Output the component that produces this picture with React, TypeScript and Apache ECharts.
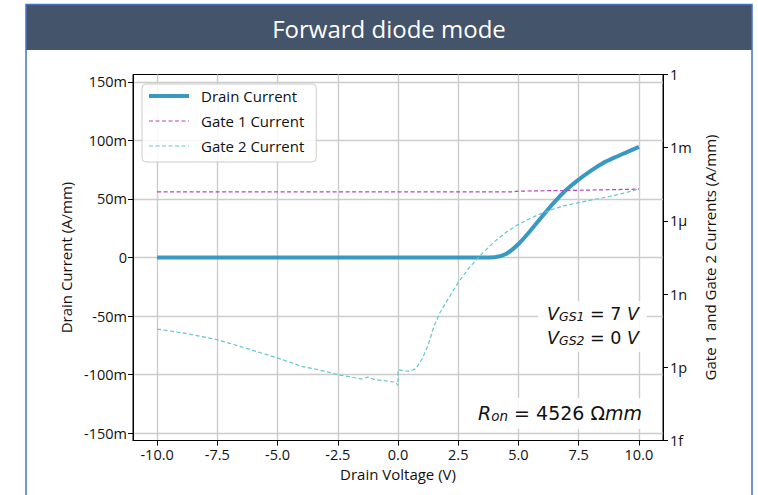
import React, { useEffect, useRef } from "react";
import * as echarts from "echarts";

// ---- data ----
const xTicks = [-10, -7.5, -5, -2.5, 0, 2.5, 5, 7.5, 10];
const leftTicks = [-0.15, -0.1, -0.05, 0, 0.05, 0.1, 0.15];
const rightTickExp = [-15, -12, -9, -6, -3, 0];
const rightTickLabels = ["1f", "1p", "1n", "1μ", "1m", "1"];

const drainV = [-10, -7.5, -5, -2.5, 0, 2.5, 3.5, 4.0, 4.5, 5.0, 5.5, 6.0, 6.5, 7.0, 7.5, 8.0, 8.5, 9.0, 9.5, 10.0];
const drainI = [0, 0, 0, 0, 0, 0, 0, 0.0002, 0.0032, 0.0115, 0.023, 0.0355, 0.0475, 0.058, 0.0665, 0.074, 0.0805, 0.0855, 0.09, 0.0945];

const gate1V = [-10, 4.75, 5.0, 7.5, 10];
const gate1I = [1.55e-5, 1.55e-5, 1.66e-5, 1.8e-5, 2.0e-5];

const gate2V = [-10, -8.75, -7.5, -6.25, -5, -4, -3, -2.5, -2, -1.5, -1.25, -1, -0.5, -0.1, 0, 0, 0.25, 0.5, 0.75, 1, 1.25, 1.5, 1.75, 2, 2.25, 2.5, 2.75, 3, 3.5, 4, 4.5, 5, 5.5, 6, 6.5, 7, 7.5, 8, 8.5, 9, 9.5, 10];
const gate2I = [3.7e-11, 2.4e-11, 1.35e-11, 5.8e-12, 2.4e-12, 1.1e-12, 6.8e-13, 4.9e-13, 4.1e-13, 3.3e-13, 4.0e-13, 3.2e-13, 2.75e-13, 2.45e-13, 1.8e-13, 7.9e-13, 7.1e-13, 6.9e-13, 8.9e-13, 2.2e-12, 8e-12, 5.0e-11, 1.8e-10, 4.7e-10, 1.2e-9, 3.0e-9, 6.5e-9, 1.35e-8, 4.7e-8, 1.4e-7, 3.5e-7, 7.2e-7, 1.3e-6, 2.1e-6, 3.2e-6, 4.4e-6, 5.6e-6, 7.1e-6, 8.9e-6, 1.12e-5, 1.48e-5, 2.04e-5];

const FONT = "'Open Sans', Lato, sans-serif";
const MATH_FONT = "'DejaVu Sans', sans-serif";
const DRAIN_COLOR = "#3A99C2";
const GATE1_COLOR = "#B346B8";
const GATE2_COLOR = "#62C6D0";

export default function App() {
  const ref = useRef<HTMLDivElement>(null);
  useEffect(() => {
    if (!ref.current) return;
    const chart = echarts.init(ref.current, undefined, { renderer: "svg" });

    const axisText = { fontFamily: FONT, fontSize: 14.5, color: "#111" };
    const nameText = { fontFamily: FONT, fontSize: 15, color: "#111" };
    const richV = (size: number, sub: number) => ({
      v: { fontFamily: MATH_FONT, fontStyle: "italic", fontSize: size, lineHeight: size, verticalAlign: "middle" },
      s: { fontFamily: MATH_FONT, fontStyle: "italic", fontSize: sub, lineHeight: 10, verticalAlign: "bottom" },
      n: { fontFamily: MATH_FONT, fontSize: size, lineHeight: size, verticalAlign: "middle" },
    });
    const option: any = {
      animation: false,
      backgroundColor: "#ffffff",
      textStyle: { fontFamily: FONT },
      grid: {
        left: 133, top: 74.5, width: 530, height: 366,
        show: true, borderColor: "#000", borderWidth: 1, backgroundColor: "transparent",
        containLabel: false,
      },
      legend: {
        orient: "vertical",
        left: 142, top: 84,
        padding: [3.5, 12, 7.5, 5],
        itemWidth: 40, itemHeight: 14, itemGap: 8,
        itemStyle: { opacity: 0 },
        lineStyle: { width: "inherit" },
        backgroundColor: "rgba(255,255,255,0.85)",
        borderColor: "#cccccc", borderWidth: 1, borderRadius: 4,
        textStyle: { fontFamily: FONT, fontSize: 15, color: "#111", lineHeight: 17, padding: [0, 0, 0, 7] },
        data: ["Drain Current", "Gate 1 Current", "Gate 2 Current"],
      },
      xAxis: {
        type: "value", min: -11, max: 11,
        name: "Drain Voltage (V)", nameLocation: "middle", nameGap: 22,
        nameTextStyle: nameText,
        axisLine: { show: true, onZero: false, lineStyle: { color: "#000", width: 1 } },
        axisTick: { show: true, inside: false, length: 5, customValues: xTicks, lineStyle: { color: "#000" } },
        axisLabel: { ...axisText, margin: 6, customValues: xTicks, formatter: (v: number) => v.toFixed(1) },
        splitLine: { show: true, lineStyle: { color: "#cccccc", width: 1.4 } },
      },
      yAxis: [
        {
          type: "value", min: -0.15625, max: 0.15625, position: "left",
          name: "Drain Current (A/mm)", nameLocation: "middle", nameGap: 60,
          nameTextStyle: nameText,
          axisLine: { show: true, onZero: false, lineStyle: { color: "#000", width: 1 } },
          axisTick: { show: true, inside: false, length: 5, customValues: leftTicks, lineStyle: { color: "#000" } },
          axisLabel: {
            ...axisText, margin: 6, customValues: leftTicks,
            formatter: (v: number) => { const m = Math.round(v * 1000); return m === 0 ? "0" : m + "m"; },
          },
          splitLine: { show: true, lineStyle: { color: "#cccccc", width: 1.4 } },
        },
        {
          type: "value", min: -15, max: 0, interval: 3, position: "right",
          name: "Gate 1 and Gate 2 Currents (A/mm)", nameLocation: "middle", nameGap: 27,
          nameTextStyle: nameText,
          axisLine: { show: true, onZero: false, lineStyle: { color: "#000", width: 1 } },
          axisTick: { show: true, inside: false, length: 5, lineStyle: { color: "#000" } },
          axisLabel: {
            ...axisText, margin: 7,
            formatter: (v: number) => { const i = rightTickExp.indexOf(Math.round(v)); return i >= 0 ? rightTickLabels[i] : ""; },
          },
          splitLine: { show: false },
        },
      ],
      series: [
        {
          name: "Drain Current", type: "line", yAxisIndex: 0, symbol: "none",
          smooth: 0.3,
          lineStyle: { color: DRAIN_COLOR, width: 4 }, itemStyle: { color: DRAIN_COLOR },
          data: drainV.map((v, i) => [v, drainI[i]]), z: 3,
        },
        {
          name: "Gate 1 Current", type: "line", yAxisIndex: 1, symbol: "none",
          lineStyle: { color: GATE1_COLOR, width: 1.2, type: [4, 2.5] }, itemStyle: { color: GATE1_COLOR },
          data: gate1V.map((v, i) => [v, Math.log10(gate1I[i])]), z: 4,
        },
        {
          name: "Gate 2 Current", type: "line", yAxisIndex: 1, symbol: "none",
          lineStyle: { color: GATE2_COLOR, width: 1.2, type: [4, 2.5] }, itemStyle: { color: GATE2_COLOR },
          data: gate2V.map((v, i) => [v, Math.log10(gate2I[i])]), z: 4,
        },
      ],
      graphic: [
        { type: "rect", z: 0, silent: true, shape: { x: 26, y: 5, width: 726, height: 45 }, style: { fill: "#44546A" } },
        { type: "rect", z: 1, silent: true, shape: { x: 26, y: 4.5, width: 726, height: 510 }, style: { fill: "none", stroke: "#4472C4", lineWidth: 1.5 } },
        {
          type: "text", z: 2, silent: true, x: 389, y: 28,
          style: { text: "Forward diode mode", fill: "#ffffff", font: `24px ${FONT}`, align: "center", verticalAlign: "middle" },
        },
        { type: "rect", z: 5, silent: true, shape: { x: 538, y: 301, width: 109, height: 51 }, style: { fill: "rgba(255,255,255,0.85)" } },
        { type: "rect", z: 5, silent: true, shape: { x: 476, y: 398, width: 171, height: 31 }, style: { fill: "rgba(255,255,255,0.85)" } },
        {
          type: "text", z: 6, silent: true, x: 639, y: 314,
          style: { text: "{v|V}{s|GS1}{n| = 7 }{v|V}", align: "right", verticalAlign: "middle", fill: "#111", rich: richV(17.5, 12.5) },
        },
        {
          type: "text", z: 6, silent: true, x: 639, y: 338,
          style: { text: "{v|V}{s|GS2}{n| = 0 }{v|V}", align: "right", verticalAlign: "middle", fill: "#111", rich: richV(17.5, 12.5) },
        },
        {
          type: "text", z: 6, silent: true, x: 642, y: 413,
          style: { text: "{v|R}{s|on}{n| = 4526 Ω}{v|mm}", align: "right", verticalAlign: "middle", fill: "#111", rich: richV(19, 13.5) },
        },
      ],
    };
    chart.setOption(option);
    return () => chart.dispose();
  }, []);
  return <div ref={ref} style={{ position: "absolute", left: 0, top: 0, width: 758, height: 495 }} />;
}
